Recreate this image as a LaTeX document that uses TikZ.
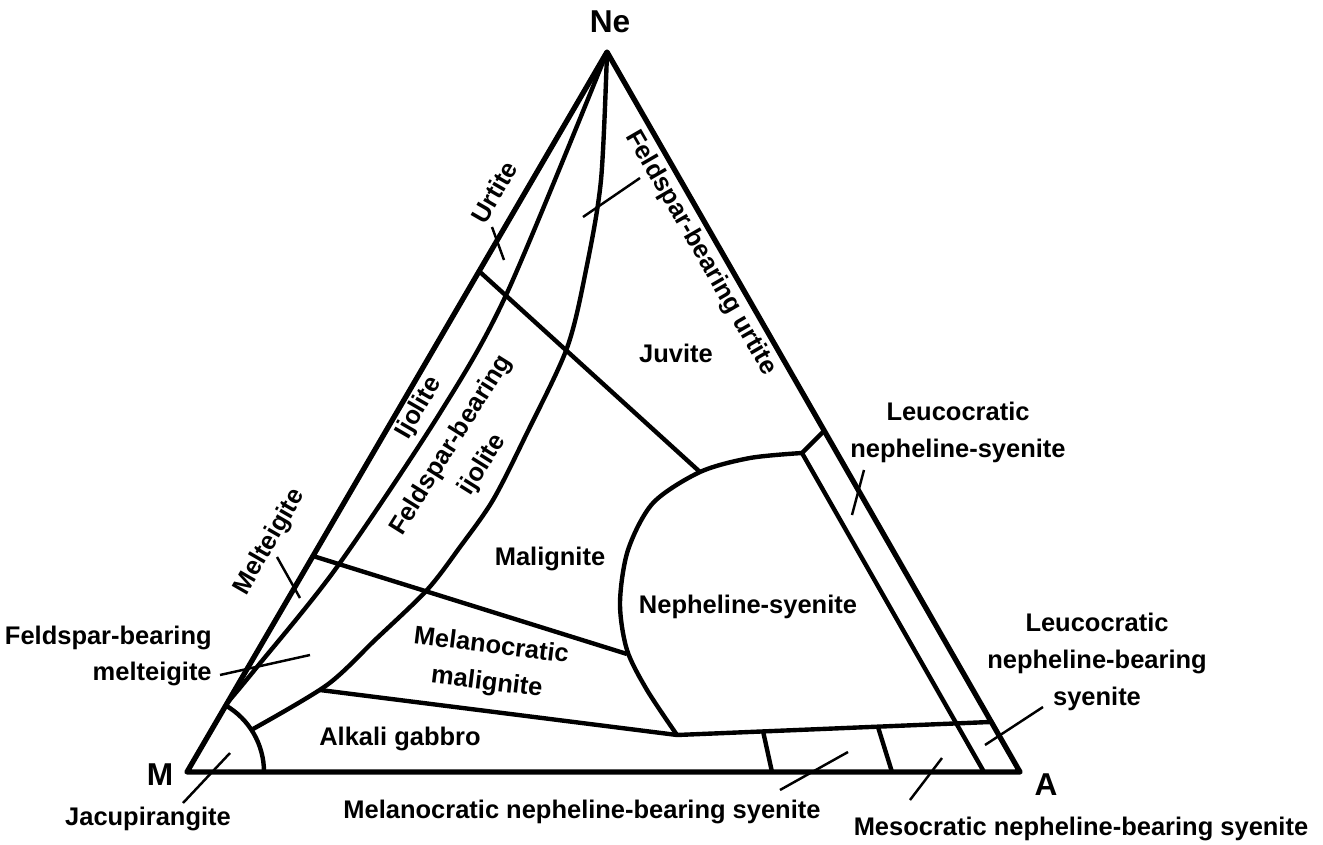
\documentclass[tikz,border=0pt]{standalone}
\usepackage{fontspec}
\setmainfont{Liberation Sans}

\newcommand{\rockfont}{\fontsize{14.5}{21}\selectfont\bfseries}
\newcommand{\apexfont}{\fontsize{18}{21}\selectfont\bfseries}

\begin{document}
\begin{tikzpicture}[x=0.02cm,y=-0.02cm]
	\tikzstyle{side}=[line width=3pt, line join=round, line cap=round]
	\tikzstyle{field}=[line width=2.5pt, line join=round]
	\tikzstyle{leader}=[line width=1.4pt]
	\tikzstyle{rock}=[font=\rockfont, inner sep=0pt, align=center]
	\tikzstyle{apex}=[font=\apexfont, inner sep=0pt]

	\useasboundingbox (0,0) rectangle (1323,845);

	% corners
	\coordinate (M) at (187,772);
	\coordinate (A) at (1020,772);
	\coordinate (Ne) at (607,52);
	\node [apex, anchor=base] (lab-ne) at (610,32) {Ne};
	\node [apex, anchor=base] (lab-m) at (160,785) {M};
	\node [apex, anchor=base] (lab-a) at (1046,795) {A};

	\draw [side] (M) -- (A) -- (Ne) -- cycle;

	% field boundaries
	\draw [field] plot [smooth] coordinates {(607,52) (507,293) (440,413) (337,567) (257,667) (228,702)};
	\draw [field] plot [smooth] coordinates {(607,52) (601,180) (586,270) (567,348) (526,435) (493,500) (460,547) (427,590) (375,640) (327,685) (253,729)};
	\draw [field] plot [smooth] coordinates {(802,453) (750,458) (700,472) (653,503) (628,550) (620,603) (627,650) (647,690) (677,735)};
	\draw [field] (677,735) -- (990,722);
	\draw [field] (824,431) -- (802,453) -- (984,772);
	\draw [field] (480,272) -- (700,472);
	\draw [field] (313,556) -- (627,654);
	\draw [field] (320,690) -- (677,735);
	\draw [field] (763,731) -- (772,772);
	\draw [field] (878,727) -- (892,772);
	\draw [field] (225.5,705.3) arc [start angle=-60, end angle=0, radius=77];

	% leader ends
	\coordinate (urt-a) at (492,227);   \coordinate (urt-b) at (504,260);
	\coordinate (furt-a) at (583,217);  \coordinate (furt-b) at (640,178);
	\coordinate (mel-a) at (277,557);   \coordinate (mel-b) at (300,598);
	\coordinate (fmel-a) at (220,675);  \coordinate (fmel-b) at (310,655);
	\coordinate (jac-a) at (230,753);   \coordinate (jac-b) at (183,803);
	\coordinate (lns-a) at (864,470);   \coordinate (lns-b) at (852,515);
	\coordinate (lnb-a) at (1043,707);  \coordinate (lnb-b) at (985,745);
	\coordinate (mnb-a) at (848,752);   \coordinate (mnb-b) at (780,790);
	\coordinate (snb-a) at (942,758);   \coordinate (snb-b) at (910,800);
	\draw [leader] (urt-a) -- (urt-b);
	\draw [leader] (furt-a) -- (furt-b);
	\draw [leader] (mel-a) -- (mel-b);
	\draw [leader] (fmel-a) -- (fmel-b);
	\draw [leader] (jac-a) -- (jac-b);
	\draw [leader] (lns-a) -- (lns-b);
	\draw [leader] (lnb-a) -- (lnb-b);
	\draw [leader] (mnb-a) -- (mnb-b);
	\draw [leader] (snb-a) -- (snb-b);

	% rock names
	\node [rock, rotate=60] (urtite) at (494,192) {Urtite};
	\node [rock, rotate=-60] (f-urtite) at (701,253) {Feldspar-bearing urtite};
	\node [rock, anchor=base] (juvite) at (676,362) {Juvite};
	\node [rock, rotate=60] (ijolite) at (419,408) {Ijolite};
	\node [rock, rotate=58] (f-ijolite) at (467,455) {Feldspar-bearing\\ijolite};
	\node [rock, rotate=60] (melteigite) at (270,542) {Melteigite};
	\node [rock, anchor=base] (malignite) at (550,565) {Malignite};
	\node [rock, anchor=base] (ne-syenite) at (748,613) {Nepheline-syenite};
	\node [rock, rotate=-7] (mel-malignite) at (489,665) {Melanocratic\\malignite};
	\node [rock, anchor=base] (gabbro) at (400,745) {Alkali gabbro};
	\node [rock, align=right, anchor=east] (f-melteigite) at (212,656) {Feldspar-bearing\\melteigite};
	\node [rock] (leu-syenite) at (958,432) {Leucocratic\\nepheline-syenite};
	\node [rock] (leu-nb-syenite) at (1097,662) {Leucocratic\\nepheline-bearing\\syenite};
	\node [rock, anchor=base] (jacupirangite) at (148,825) {Jacupirangite};
	\node [rock, anchor=base] (mel-nb-syenite) at (582,818) {Melanocratic nepheline-bearing syenite};
	\node [rock, anchor=base] (mes-nb-syenite) at (1081,835) {Mesocratic nepheline-bearing syenite};
\end{tikzpicture}
\end{document}
